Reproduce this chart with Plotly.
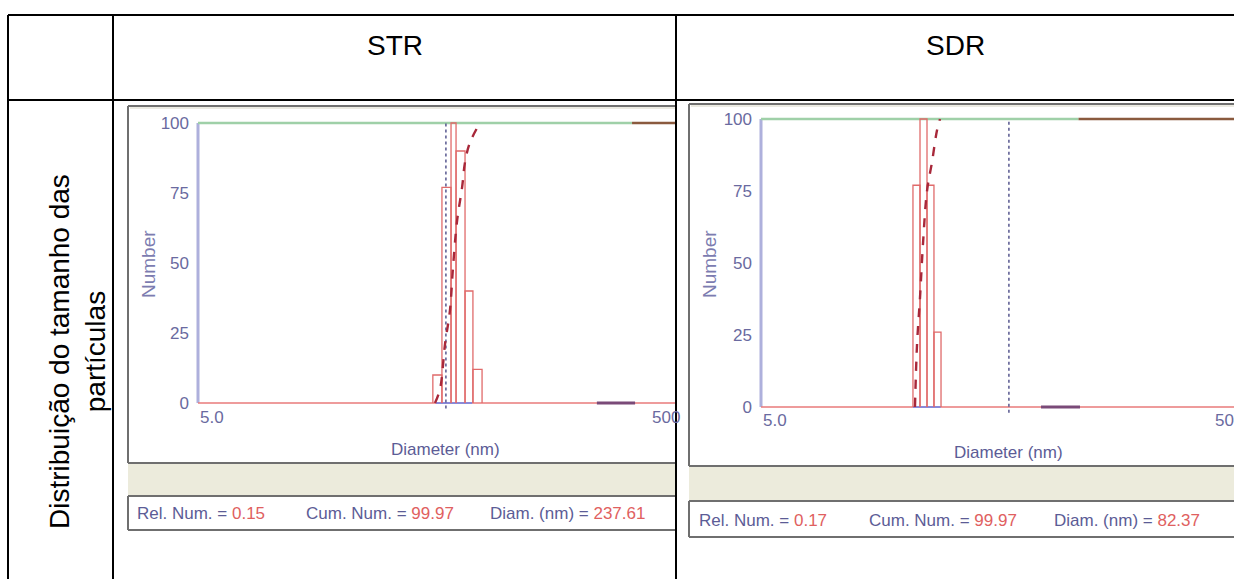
import math
import plotly.graph_objects as go

W, H = 1234, 579

# ---------------- data ----------------
samples = ["STR", "SDR"]
row_label = "Distribuição do tamanho das<br>partículas"
y_tick_vals = [0, 25, 50, 75, 100]
x_min_nm, x_max_nm = 5.0, 5000.0

str_bin_edges = [181, 208, 239, 258, 296, 334, 384]      # nm
str_bin_counts = [10, 77, 100, 90, 40, 12]                # relative number
str_cum_diam = [187, 202, 218, 235, 246, 262, 283, 296, 319, 372]
str_cum_num = [0, 5, 21, 33, 48, 65, 77, 86, 93, 100]

sdr_bin_edges = [51.0, 56.8, 63.2, 70.3, 78.3]
sdr_bin_counts = [77, 100, 77, 26]
sdr_cum_diam = [52.6, 54.3, 56.8, 59.5, 63.2, 68.2, 73.6, 77.1]
sdr_cum_num = [0, 22, 38, 57, 75, 85, 96, 100]

cursor_diam = [221, 221]
dist_span = [[190, 330], [51, 78]]          # blue baseline under the peak
range_marks = [[2220, 3980], [361, 655]]    # purple marker on baseline
upper_split = [3800, 640]                   # green -> brown on the 100 line
rel_num = [0.15, 0.17]
cum_num = [99.97, 99.97]
diam_nm = [237.61, 82.37]

# ---------------- geometry ----------------
DECADE_PX = 452 / 3.0
panels = [
    dict(left=128, top=106, box_bottom=463, strip_bottom=496, status_bottom=530,
         right=676, axis_x=198, y0=403, y100=123, status_y=513, xlab_y=417,
         dlab_y=449, number_x=148, number_y=264, status_x=[135, 304, 488],
         end_label="500"),
    dict(left=689, top=104, box_bottom=466, strip_bottom=501, status_bottom=537,
         right=1234, axis_x=761, y0=407, y100=119, status_y=520, xlab_y=420,
         dlab_y=452, number_x=709, number_y=264, status_x=[697, 867, 1052],
         end_label="50"),
]


def fx(x):
    return x / W


def fy(y):
    return 1 - y / H


BLUE_TXT = "#5c5c96"
TICK_TXT = "#6a6aa0"
RED_TXT = "#e06060"
FONT = "Liberation Sans, Arial, sans-serif"

fig = go.Figure()
shapes = []
annotations = []

# ---------------- table ----------------
def hline(x0, x1, y, color="black", width=2, layer="above"):
    shapes.append(dict(type="line", xref="paper", yref="paper",
                       x0=fx(x0), x1=fx(x1), y0=fy(y), y1=fy(y),
                       line=dict(color=color, width=width), layer=layer))


def vline(x, y0, y1, color="black", width=2, layer="above"):
    shapes.append(dict(type="line", xref="paper", yref="paper",
                       x0=fx(x), x1=fx(x), y0=fy(y0), y1=fy(y1),
                       line=dict(color=color, width=width), layer=layer))


def rect(x0, y0, x1, y1, fill):
    shapes.append(dict(type="rect", xref="paper", yref="paper",
                       x0=fx(x0), x1=fx(x1), y0=fy(y1), y1=fy(y0),
                       fillcolor=fill, line=dict(width=0), layer="below"))


hline(8, W, 15)
hline(8, W, 100)
vline(8, 15, H)
vline(113, 15, H)
vline(676, 15, H)

for name, cx in zip(samples, [395, 955]):
    annotations.append(dict(text=name, xref="paper", yref="paper", x=fx(cx), y=fy(45),
                            showarrow=False, xanchor="center", yanchor="middle",
                            font=dict(family=FONT, size=28, color="black")))

annotations.append(dict(text=row_label, xref="paper", yref="paper", x=fx(77), y=fy(352),
                        showarrow=False, textangle=-90, xanchor="center", yanchor="middle",
                        align="center", font=dict(family=FONT, size=28, color="black")))

# ---------------- instrument panels ----------------
series = [
    (str_bin_edges, str_bin_counts, str_cum_diam, str_cum_num),
    (sdr_bin_edges, sdr_bin_counts, sdr_cum_diam, sdr_cum_num),
]

for i, (p, (edges, counts, cdiam, cnum)) in enumerate(zip(panels, series)):
    xa = "x" if i == 0 else "x2"
    ya = "y" if i == 0 else "y2"
    right = p["right"]

    # window frame
    rect(p["left"], p["top"], right, p["box_bottom"], "white")
    rect(p["left"], p["box_bottom"], right, p["strip_bottom"], "#ecebdc")
    rect(p["left"], p["strip_bottom"], right, p["status_bottom"], "white")
    frame = "#6f6f6f"
    hline(p["left"], right, p["top"], frame, 2, "below")
    hline(p["left"] + 2, right, p["top"] + 2, "#d8d6c4", 1, "below")
    hline(p["left"], right, p["box_bottom"], frame, 2, "below")
    hline(p["left"], right, p["strip_bottom"], frame, 2, "below")
    hline(p["left"], right, p["status_bottom"], frame, 2, "below")
    vline(p["left"], p["top"], p["box_bottom"], frame, 2, "below")
    vline(p["left"], p["strip_bottom"], p["status_bottom"], frame, 2, "below")

    # axes
    ppu = (p["y0"] - p["y100"]) / 100.0
    xr0 = math.log10(x_min_nm) - 8 / DECADE_PX
    xr1 = math.log10(x_min_nm) + (right - p["axis_x"]) / DECADE_PX
    xaxis = dict(type="log", range=[xr0, xr1],
                 domain=[fx(p["axis_x"] - 8), fx(right)],
                 showgrid=False, zeroline=False, showline=False,
                 showticklabels=False, ticks="", anchor=ya)
    yaxis = dict(range=[-4, 103],
                 domain=[fy(p["y0"] + 4 * ppu), fy(p["y100"] - 3 * ppu)],
                 showgrid=False, zeroline=False, showline=False,
                 tickvals=y_tick_vals, ticks="",
                 tickfont=dict(family=FONT, size=17, color=TICK_TXT),
                 anchor=xa)
    if i == 0:
        fig.update_layout(xaxis=xaxis, yaxis=yaxis)
    else:
        fig.update_layout(xaxis2=xaxis, yaxis2=yaxis)

    # y axis line
    fig.add_trace(go.Scatter(x=[x_min_nm, x_min_nm], y=[0, 100], mode="lines",
                             line=dict(color="#aeb0dc", width=3),
                             xaxis=xa, yaxis=ya, hoverinfo="skip"))
    # 100 % line: green then brown
    fig.add_trace(go.Scatter(x=[x_min_nm, upper_split[i]], y=[100, 100], mode="lines",
                             line=dict(color="#9fd0a8", width=2.5),
                             xaxis=xa, yaxis=ya, hoverinfo="skip"))
    fig.add_trace(go.Scatter(x=[upper_split[i], 1e5], y=[100, 100], mode="lines",
                             line=dict(color="#8a5a3e", width=2.5),
                             xaxis=xa, yaxis=ya, hoverinfo="skip"))
    # baseline
    fig.add_trace(go.Scatter(x=[x_min_nm, 1e5], y=[0, 0], mode="lines",
                             line=dict(color="#e87a7a", width=1.5),
                             xaxis=xa, yaxis=ya, hoverinfo="skip"))
    fig.add_trace(go.Scatter(x=dist_span[i], y=[0, 0], mode="lines",
                             line=dict(color="#8a8ad8", width=2),
                             xaxis=xa, yaxis=ya, hoverinfo="skip"))
    fig.add_trace(go.Scatter(x=range_marks[i], y=[0, 0], mode="lines",
                             line=dict(color="#7a4a78", width=3),
                             xaxis=xa, yaxis=ya, hoverinfo="skip"))

    # histogram outlines
    hx, hy = [], []
    for x0, x1, h in zip(edges[:-1], edges[1:], counts):
        hx += [x0, x0, x1, x1, None]
        hy += [0, h, h, 0, None]
    fig.add_trace(go.Scatter(x=hx, y=hy, mode="lines",
                             line=dict(color="#e06a6a", width=1.3),
                             xaxis=xa, yaxis=ya, hoverinfo="skip"))

    # cursor
    fig.add_trace(go.Scatter(x=cursor_diam, y=[-2, 100], mode="lines",
                             line=dict(color="#56568e", width=1.5, dash="dot"),
                             xaxis=xa, yaxis=ya, hoverinfo="skip"))

    # cumulative curve
    fig.add_trace(go.Scatter(x=cdiam, y=cnum, mode="lines",
                             line=dict(color="#a8283a", width=2.4, dash="dash", shape="spline"),
                             xaxis=xa, yaxis=ya, hoverinfo="skip"))

    # axis labels
    annotations.append(dict(text="5.0", xref=xa, yref="paper", x=math.log10(x_min_nm),
                            y=fy(p["xlab_y"]), xanchor="left", yanchor="middle",
                            showarrow=False, font=dict(family=FONT, size=17, color=TICK_TXT)))
    annotations.append(dict(text=p["end_label"], xref=xa, yref="paper", x=math.log10(x_max_nm),
                            y=fy(p["xlab_y"]), xanchor="left", yanchor="middle",
                            showarrow=False, font=dict(family=FONT, size=17, color=TICK_TXT)))
    annotations.append(dict(text="Diameter (nm)", xref=xa, yref="paper",
                            x=math.log10(cursor_diam[0]), y=fy(p["dlab_y"]),
                            xanchor="center", yanchor="middle", showarrow=False,
                            font=dict(family=FONT, size=17, color=BLUE_TXT)))
    annotations.append(dict(text="Number", xref="paper", yref="paper",
                            x=fx(p["number_x"]), y=fy(p["number_y"]), textangle=-90,
                            xanchor="center", yanchor="middle", showarrow=False,
                            font=dict(family=FONT, size=19, color="#7c7cb0")))

    # status bar
    status = [
        f"Rel. Num. = <span style='color:{RED_TXT}'>{rel_num[i]:.2f}</span>",
        f"Cum. Num. = <span style='color:{RED_TXT}'>{cum_num[i]:.2f}</span>",
        f"Diam. (nm) = <span style='color:{RED_TXT}'>{diam_nm[i]:.2f}</span>",
    ]
    for sx, txt in zip(p["status_x"], status):
        annotations.append(dict(text=txt, xref="paper", yref="paper", x=fx(sx),
                                y=fy(p["status_y"]), xanchor="left", yanchor="middle",
                                showarrow=False, font=dict(family=FONT, size=17, color=BLUE_TXT)))

fig.update_layout(
    width=W, height=H,
    margin=dict(l=0, r=0, t=0, b=0),
    paper_bgcolor="white", plot_bgcolor="rgba(0,0,0,0)",
    showlegend=False,
    shapes=shapes, annotations=annotations,
)

fig.write_html("out.html", config={"displayModeBar": False})
